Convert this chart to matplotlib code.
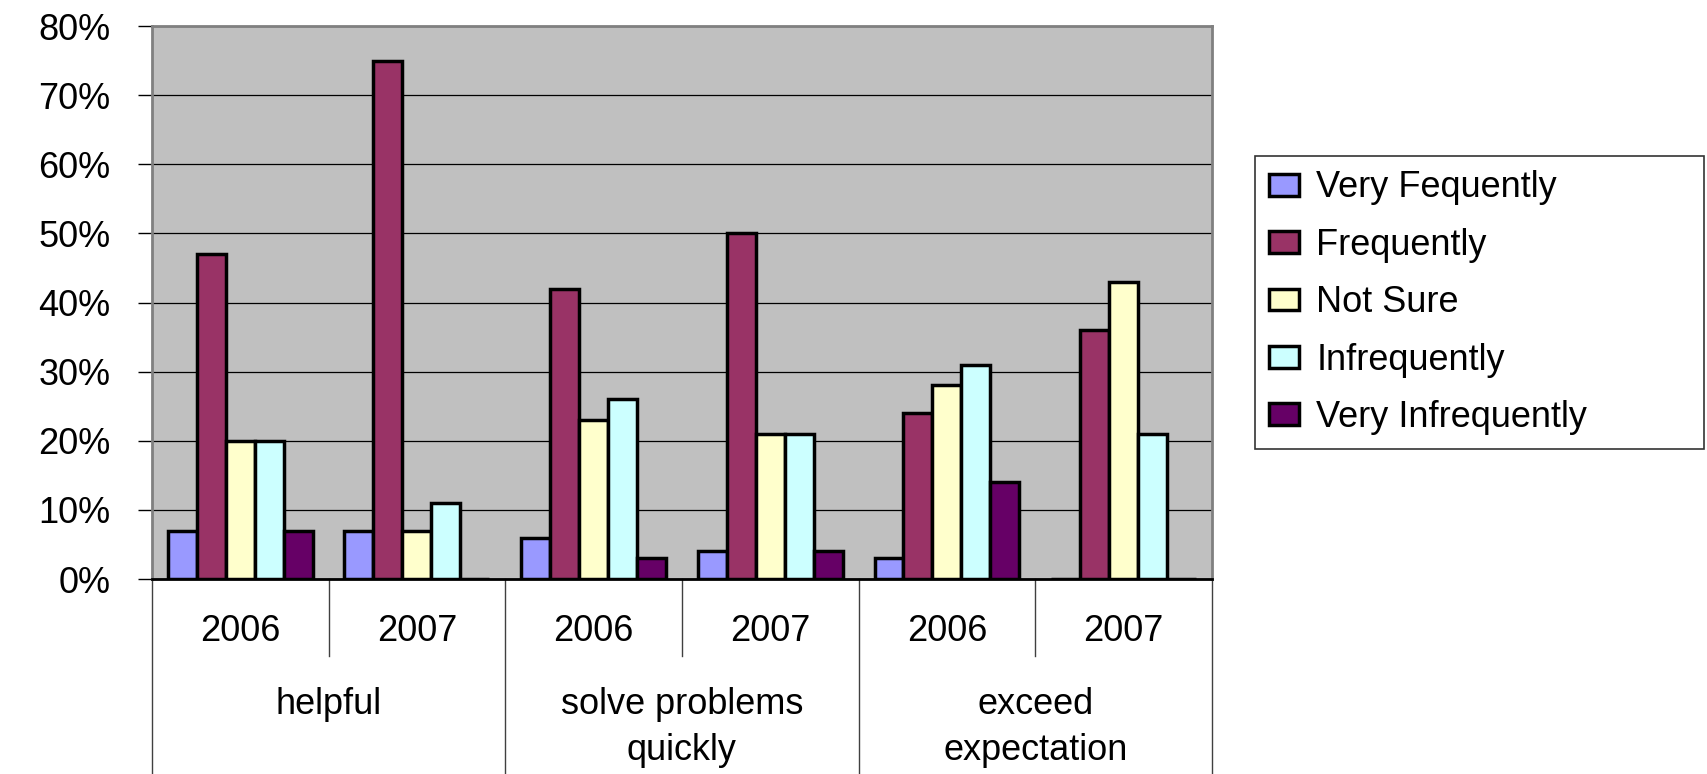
import matplotlib
matplotlib.use("Agg")
import matplotlib.pyplot as plt
from matplotlib.lines import Line2D
from matplotlib.ticker import FuncFormatter
import numpy as np

FONT = "Liberation Sans"
FONT_SIZE = 26

years = ["2006", "2007", "2006", "2007", "2006", "2007"]
groups = ["helpful", "solve problems\nquickly", "exceed\nexpectation"]
series_names = ["Very Fequently", "Frequently", "Not Sure", "Infrequently", "Very Infrequently"]
very_freq = [7, 7, 6, 4, 3, 0]
freq = [47, 75, 42, 50, 24, 36]
not_sure = [20, 7, 23, 21, 28, 43]
infreq = [20, 11, 26, 21, 31, 21]
very_infreq = [7, 0, 3, 4, 14, 0]
colors = ["#9999FF", "#993366", "#FFFFCC", "#CCFFFF", "#660066"]

plt.rcParams['font.family'] = [FONT, 'DejaVu Sans']

fig = plt.figure(figsize=(17.07, 7.74), dpi=100)
ax = fig.add_axes([0.0890, 0.2519, 0.6210, 0.7145])
ax.set_facecolor("#C0C0C0")

x = np.arange(len(years))
width = 0.164
all_series = [very_freq, freq, not_sure, infreq, very_infreq]
for i, (vals, col, name) in enumerate(zip(all_series, colors, series_names)):
    vals = np.array(vals) / 100.0
    ax.bar(x + (i - 2) * width, vals, width, color=col, edgecolor="black",
           linewidth=2.5, label=name, zorder=3)

ax.set_xlim(-0.5, 5.5)
ax.set_ylim(0, 0.8)
ax.set_yticks(np.arange(0, 0.81, 0.1))
ax.yaxis.set_major_formatter(FuncFormatter(lambda v, p: "%d%%" % round(v * 100)))
ax.yaxis.grid(True, color="black", linewidth=0.9, zorder=1)
ax.set_axisbelow(True)
ax.set_xticks([])
ax.tick_params(axis='y', direction='out', length=10, width=1, pad=20, labelsize=FONT_SIZE)
for s in ["left", "top", "right"]:
    ax.spines[s].set_color("#808080")
    ax.spines[s].set_linewidth(2)
ax.spines["bottom"].set_color("black")
ax.spines["bottom"].set_linewidth(2)

# category axis below the plot
trans = ax.get_xaxis_transform()
for xb in [-0.5, 1.5, 3.5, 5.5]:
    ax.add_line(Line2D([xb, xb], [0, -0.36], transform=trans, color="#404040",
                       linewidth=1, clip_on=False))
for xb in [0.5, 2.5, 4.5]:
    ax.add_line(Line2D([xb, xb], [0, -0.139], transform=trans, color="#404040",
                       linewidth=1, clip_on=False))
for xi, yr in zip(x, years):
    ax.text(xi, -0.095, yr, transform=trans, ha="center", va="center", fontsize=FONT_SIZE)
for gi, g in enumerate(groups):
    ypos = -0.2685 if "\n" in g else -0.226
    ax.text(2 * gi + 0.5, ypos, g, transform=trans, ha="center", va="center",
            fontsize=FONT_SIZE, linespacing=1.42)

leg = ax.legend(loc="upper left",
                bbox_to_anchor=(1255 / 1707, 1 - 445 / 774, 449 / 1707, 289 / 774),
                bbox_transform=fig.transFigure, mode="expand", fontsize=FONT_SIZE,
                frameon=True, fancybox=False, handlelength=0.83, handleheight=0.55,
                handletextpad=0.47, labelspacing=0.62, borderpad=0.4, borderaxespad=0)
leg.get_frame().set_edgecolor("black")
leg.get_frame().set_linewidth(1.2)

fig.savefig("out.png", dpi=100)
